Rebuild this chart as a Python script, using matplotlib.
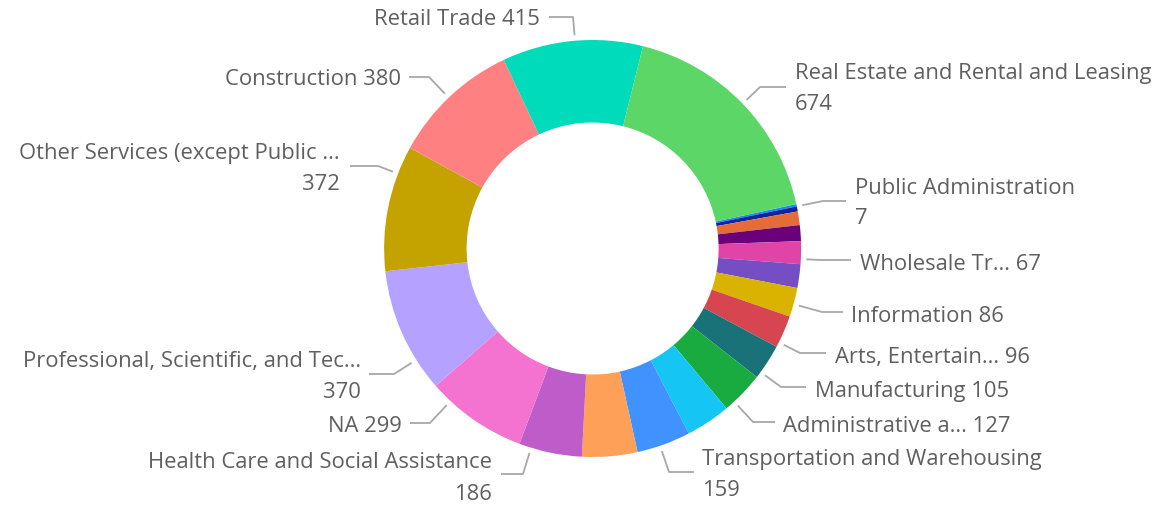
import numpy as np
import matplotlib.pyplot as plt

plt.rcParams['font.family'] = ['Open Sans', 'DejaVu Sans']

# slices in drawing order (clockwise), sorted ascending
categories = ["Public Administration", "Management of Companies and Enterprises", "Utilities",
              "Agriculture, Forestry, Fishing and Hunting", "Wholesale Trade", "Educational Services",
              "Information", "Arts, Entertainment, and Recreation", "Manufacturing",
              "Administrative and Support and Waste Management", "Finance and Insurance",
              "Transportation and Warehousing", "Accommodation and Food Services",
              "Health Care and Social Assistance", "NA",
              "Professional, Scientific, and Technical Services",
              "Other Services (except Public Administration)", "Construction", "Retail Trade",
              "Real Estate and Rental and Leasing"]
values = [7, 15, 40, 47, 67, 70, 86, 96, 105, 127, 132, 159, 163, 186, 299, 370, 372, 380, 415, 674]
colors = ["#118DFF", "#12239E", "#E66C37", "#6B007B", "#E044A7", "#744EC2", "#D9B300", "#D64550",
          "#197278", "#1AAB40", "#15C6F4", "#4092FF", "#FFA058", "#BE5DC9", "#F472D0", "#B5A1FF",
          "#C4A200", "#FF8080", "#00DBBC", "#5BD667"]

# shown data labels: category -> displayed name (truncated like in the report)
shown = {
    "Real Estate and Rental and Leasing": ("Real Estate and Rental and Leasing", True),
    "Public Administration": ("Public Administration", True),
    "Wholesale Trade": ("Wholesale Tr...", False),
    "Information": ("Information", False),
    "Arts, Entertainment, and Recreation": ("Arts, Entertain...", False),
    "Manufacturing": ("Manufacturing", False),
    "Administrative and Support and Waste Management": ("Administrative a...", False),
    "Transportation and Warehousing": ("Transportation and Warehousing", True),
    "Health Care and Social Assistance": ("Health Care and Social Assistance", True),
    "NA": ("NA", False),
    "Professional, Scientific, and Technical Services": ("Professional, Scientific, and Tec...", True),
    "Other Services (except Public Administration)": ("Other Services (except Public ...", True),
    "Construction": ("Construction", False),
    "Retail Trade": ("Retail Trade", False),
}

# label layout in pixels (y down): elbow, line end, text anchor x, text y, alignment
layout = {
    "Real Estate and Rental and Leasing": ((760, 87), (786, 87), 795, 87, 'left'),
    "Public Administration": ((823, 201), (846, 201), 855, 201, 'left'),
    "Wholesale Tr...": ((820, 260), (851, 260), 860, 262, 'left'),
    "Information": ((822, 312), (843, 312), 851, 314, 'left'),
    "Arts, Entertain...": ((800, 353), (826, 353), 835, 355, 'left'),
    "Manufacturing": ((781, 387), (806, 387), 815, 389, 'left'),
    "Administrative a...": ((753, 422), (775, 422), 783, 424, 'left'),
    "Transportation and Warehousing": ((669, 472), (694, 472), 702, 473, 'left'),
    "Health Care and Social Assistance": ((523, 474), (501, 474), 492, 476, 'right'),
    "NA": ((430, 423), (410, 423), 402, 424, 'right'),
    "Professional, Scientific, and Tec...": ((394, 374), (369, 374), 361, 374, 'right'),
    "Other Services (except Public ...": ((378, 166), (350, 166), 340, 167, 'right'),
    "Construction": ((429, 77), (409, 77), 401, 77, 'right'),
    "Retail Trade": ((573, 17), (549, 17), 540, 17, 'right'),
}

W, H = 1160, 505
cx, cy, r_out, r_in = 592.6, 248.5, 208.5, 126


def P(x, y):
    return x, H - y


fig = plt.figure(figsize=(W / 100, H / 100), dpi=100)
ax = fig.add_axes([0, 0, 1, 1])

total = sum(values)
start = 90 - (14 + values[-1] / total * 360)
ax.pie(values, colors=colors, startangle=start, counterclock=False, radius=r_out,
       center=P(cx, cy), wedgeprops=dict(width=r_out - r_in, linewidth=0))

txt_color = '#5F5F5F'
line_color = '#A8A8A8'
fs = 15.8
dy = 2.5  # small baseline shift of text
for cat, val in zip(categories, values):
    if cat not in shown:
        continue
    name, two_lines = shown[cat]
    elbow, end, tx, ty, ha = layout[name]
    d = np.array(elbow) - np.array([cx, cy])
    s = np.array([cx, cy]) + d / np.hypot(*d) * 214
    xs = [s[0], elbow[0], end[0]]
    ys = [H - s[1], H - elbow[1], H - end[1]]
    ax.plot(xs, ys, color=line_color, lw=1.3, solid_capstyle='butt')
    if two_lines:
        ax.text(*P(tx, ty - 15.5 + dy), name, ha=ha, va='center', fontsize=fs, color=txt_color)
        ax.text(*P(tx, ty + 15.5 + dy), str(val), ha=ha, va='center', fontsize=fs, color=txt_color)
    else:
        ax.text(*P(tx, ty + dy), f"{name} {val}", ha=ha, va='center', fontsize=fs, color=txt_color)

ax.set_xlim(0, W)
ax.set_ylim(0, H)
ax.set_aspect('equal')
ax.axis('off')
fig.savefig('out.png', dpi=100, facecolor='white')
